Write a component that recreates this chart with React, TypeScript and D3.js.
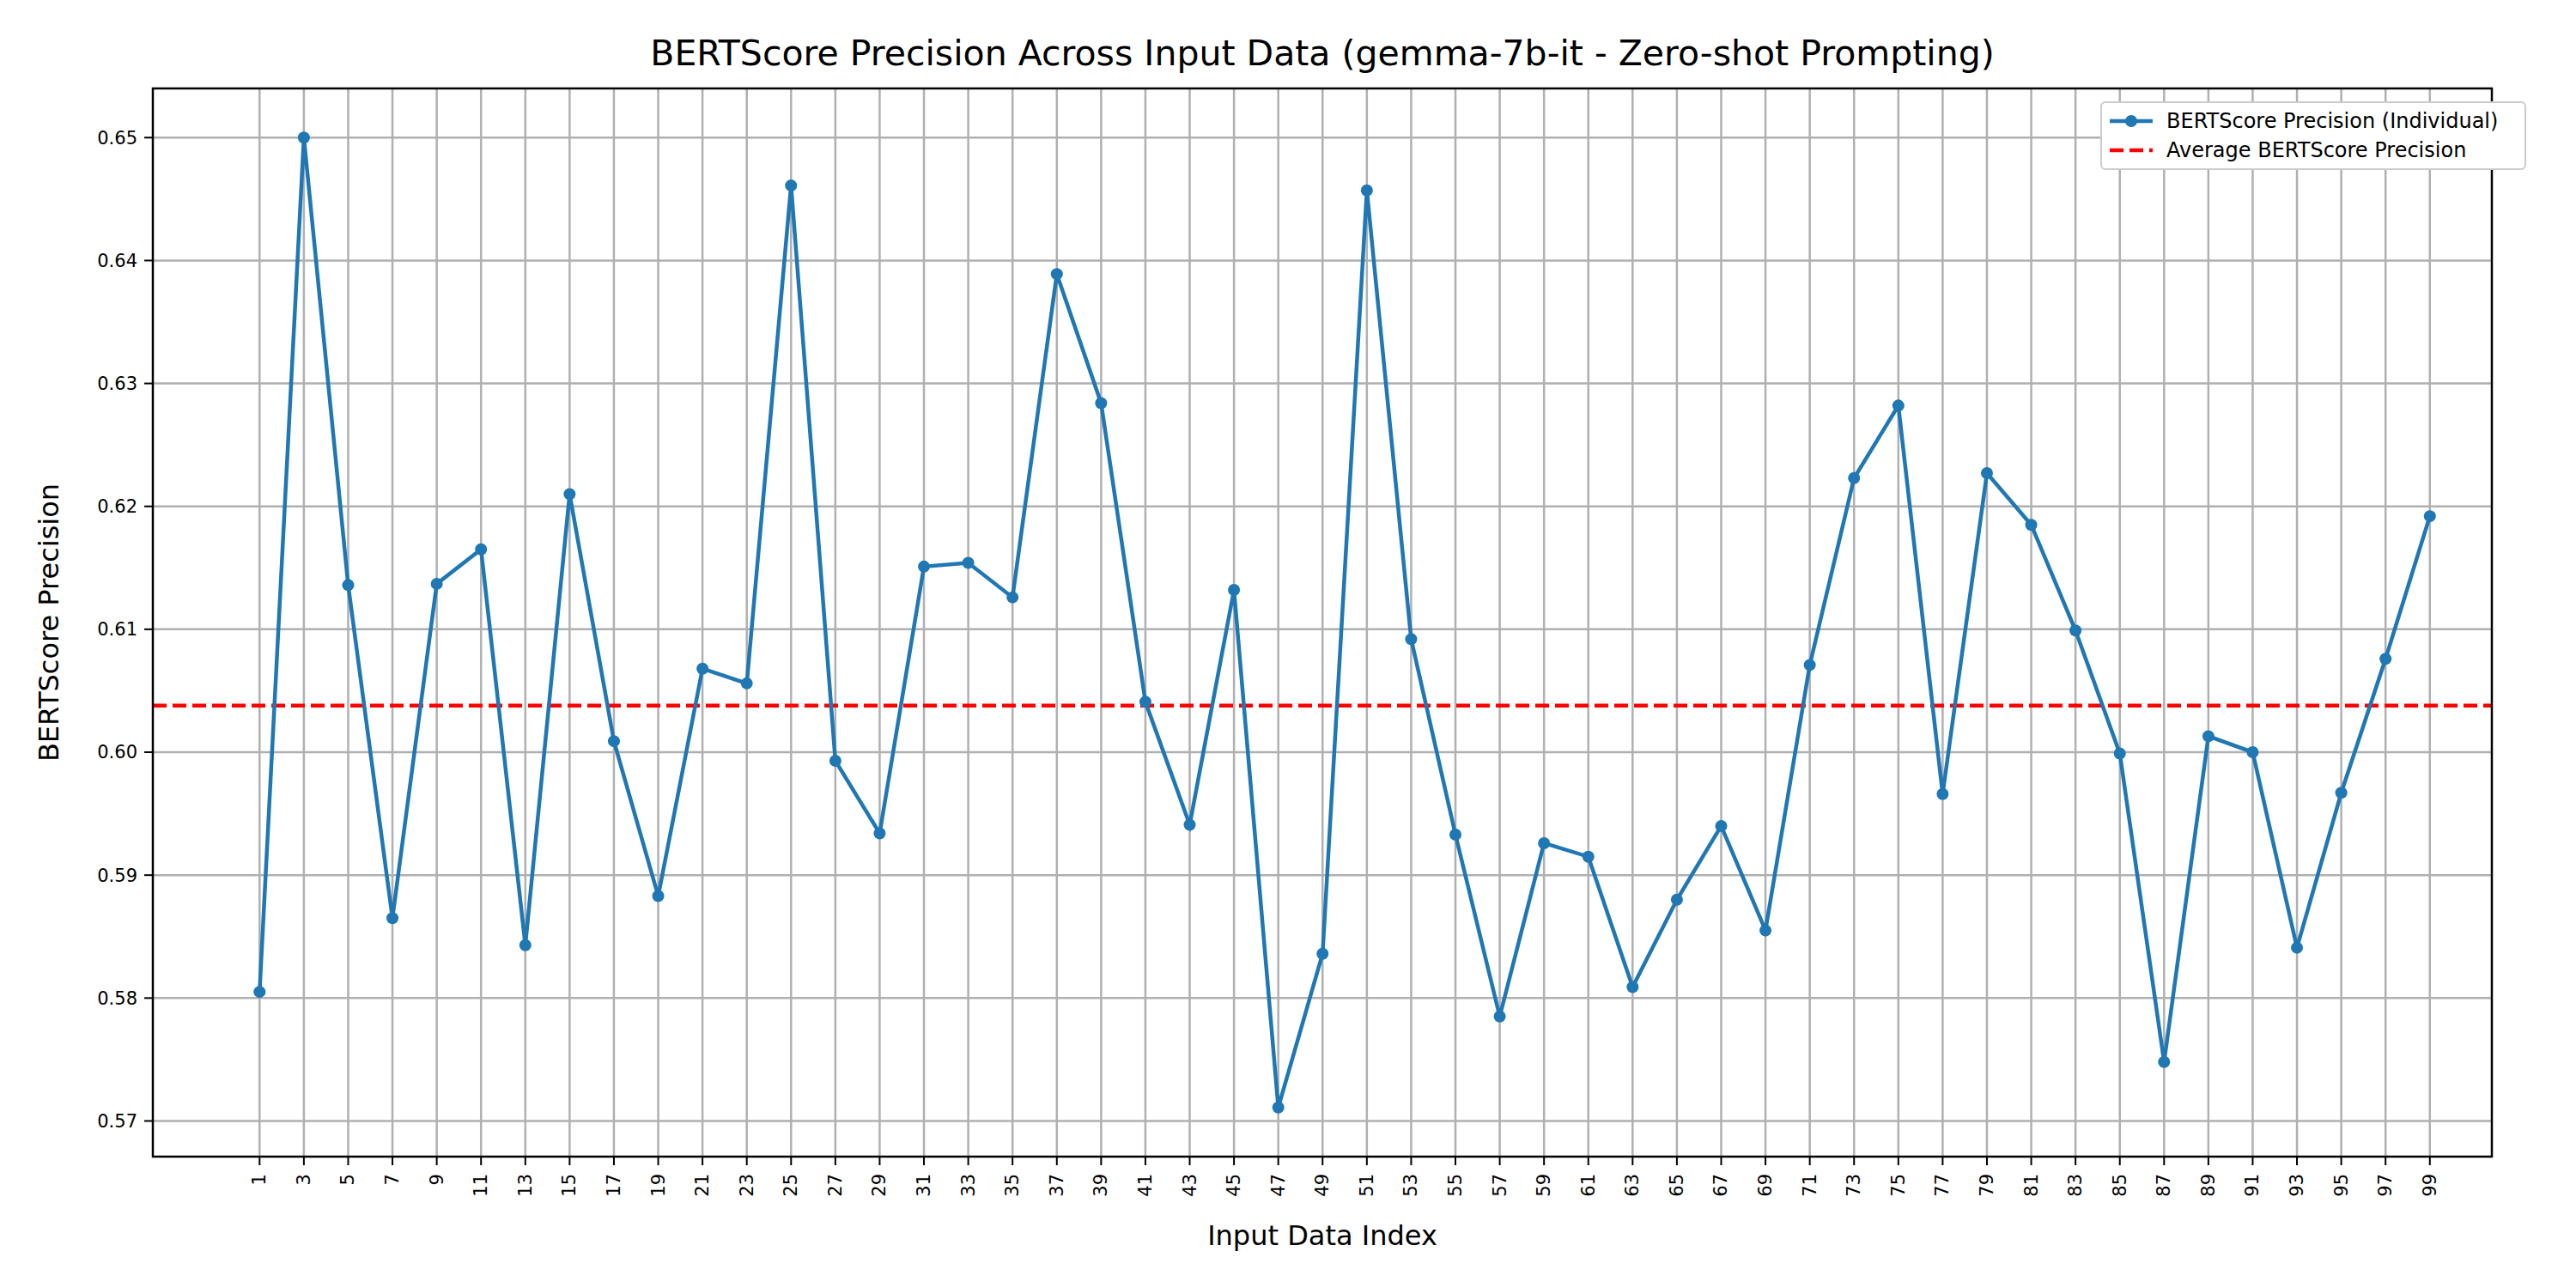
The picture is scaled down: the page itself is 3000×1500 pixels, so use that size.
import React from 'react';
import * as d3 from 'd3';

const indices = d3.range(1, 100, 2);
const precision = [
  0.5805, 0.650, 0.6136, 0.5865, 0.6137, 0.6165, 0.5843, 0.621, 0.6009, 0.5883,
  0.6068, 0.6056, 0.6461, 0.5993, 0.5934, 0.6151, 0.6154, 0.6126, 0.6389, 0.6284,
  0.6041, 0.5941, 0.6132, 0.5711, 0.5836, 0.6457, 0.6092, 0.5933, 0.5785, 0.5926,
  0.5915, 0.5809, 0.5880, 0.5940, 0.5855, 0.6071, 0.6223, 0.6282, 0.5966, 0.6227,
  0.6185, 0.6099, 0.5999, 0.5748, 0.6013, 0.6000, 0.5841, 0.5967, 0.6076, 0.6192,
];
const average = 0.6038;
const yTicks = [0.57, 0.58, 0.59, 0.6, 0.61, 0.62, 0.63, 0.64, 0.65];

export default function App(): JSX.Element {
  const W = 3000;
  const H = 1500;
  const m = { left: 178, right: 2902, top: 103, bottom: 1347 };
  const x = d3.scaleLinear().domain([-3.82, 101.8]).range([m.left, m.right]);
  const y = d3.scaleLinear().domain([0.5671, 0.654]).range([m.bottom, m.top]);
  const line = d3
    .line<number>()
    .x((_, i) => x(indices[i]))
    .y((d) => y(d));
  const blue = '#1f77b4';
  const font = 'DejaVu Sans, sans-serif';

  return (
    <svg width={W} height={H} style={{ display: 'block', margin: -8, background: 'white' }} fontFamily={font}>
      {indices.map((v) => (
        <line key={'gx' + v} x1={x(v)} x2={x(v)} y1={m.top} y2={m.bottom} stroke="#b0b0b0" strokeWidth={2.5} />
      ))}
      {yTicks.map((v) => (
        <line key={'gy' + v} x1={m.left} x2={m.right} y1={y(v)} y2={y(v)} stroke="#b0b0b0" strokeWidth={2.5} />
      ))}
      <line x1={m.left} x2={m.right} y1={y(average)} y2={y(average)} stroke="red" strokeWidth={4.5} strokeDasharray="16 7" />
      <path d={line(precision) || ''} fill="none" stroke={blue} strokeWidth={4.5} />
      {precision.map((d, i) => (
        <circle key={i} cx={x(indices[i])} cy={y(d)} r={7} fill={blue} />
      ))}
      <rect x={m.left} y={m.top} width={m.right - m.left} height={m.bottom - m.top} fill="none" stroke="black" strokeWidth={2.5} />
      {indices.map((v) => (
        <g key={'tx' + v} transform={`translate(${x(v)},${m.bottom})`}>
          <line y2={10} stroke="black" strokeWidth={2} />
          <text transform="translate(7,20) rotate(-90)" textAnchor="end" fontSize={21}>{v}</text>
        </g>
      ))}
      {yTicks.map((v) => (
        <g key={'ty' + v} transform={`translate(${m.left},${y(v)})`}>
          <line x2={-10} stroke="black" strokeWidth={2} />
          <text x={-18} dy="0.35em" textAnchor="end" fontSize={21}>{v.toFixed(2)}</text>
        </g>
      ))}
      <text x={(m.left + m.right) / 2} y={76} textAnchor="middle" fontSize={41}>
        BERTScore Precision Across Input Data (gemma-7b-it - Zero-shot Prompting)
      </text>
      <text x={(m.left + m.right) / 2} y={1450} textAnchor="middle" fontSize={32}>Input Data Index</text>
      <text transform={`translate(68,${(m.top + m.bottom) / 2}) rotate(-90)`} textAnchor="middle" fontSize={32}>
        BERTScore Precision
      </text>
      <g transform="translate(2447,119)">
        <rect width={494} height={78} fill="white" stroke="#ccc" strokeWidth={2} rx={5} />
        <line x1={10} x2={60} y1={22} y2={22} stroke={blue} strokeWidth={4.5} />
        <circle cx={35} cy={22} r={7} fill={blue} />
        <text x={76} y={22} dy="0.35em" fontSize={24}>BERTScore Precision (Individual)</text>
        <line x1={10} x2={60} y1={56} y2={56} stroke="red" strokeWidth={4.5} strokeDasharray="16 7" />
        <text x={76} y={56} dy="0.35em" fontSize={24}>Average BERTScore Precision</text>
      </g>
    </svg>
  );
}
